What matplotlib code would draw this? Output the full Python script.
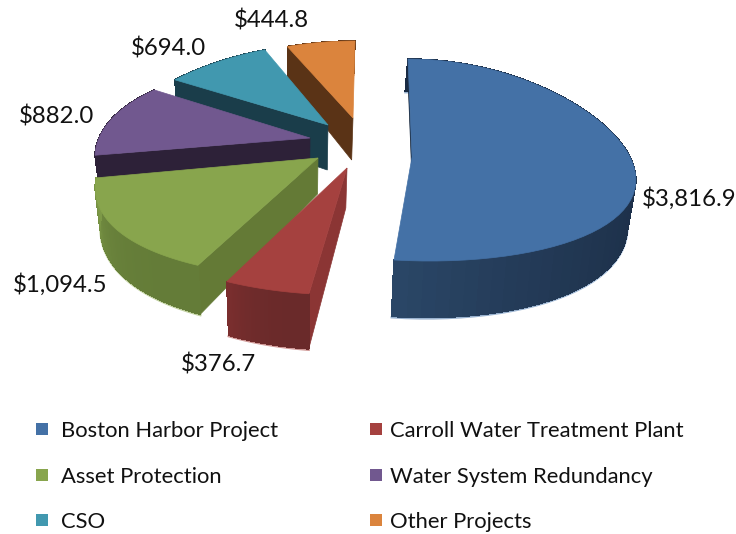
import numpy as np
import matplotlib
matplotlib.use("Agg")
import matplotlib.pyplot as plt
from matplotlib.colors import to_rgb
from matplotlib.patches import Polygon, Rectangle


# ---------- Data ----------
projects = ["Boston Harbor Project", "Carroll Water Treatment Plant", "Asset Protection",
            "Water System Redundancy", "CSO", "Other Projects"]
amounts = [3816.9, 376.7, 1094.5, 882.0, 694.0, 444.8]
amount_labels = ["$3,816.9", "$376.7", "$1,094.5", "$882.0", "$694.0", "$444.8"]

# ---------- Colours ----------
top_colors = ["#4471a6", "#a5413f", "#88a54d", "#71588f", "#4198af", "#db843d"]
cut_colors = ["#14253b", "#8b3534", "#647a36", "#2d2138", "#1a3d4a", "#5a3316"]
band_start = ["#1a2b43", "#6a2a2a", "#647c38", "#2d2138", "#1a3d4a", "#5a3316"]
band_end = ["#2a4666", "#7a2e2e", "#7d9947", "#2d2138", "#1a3d4a", "#5a3316"]

# ---------- Exploded 3D layout, one entry per slice ----------
apex_x = [412, 347, 318, 310, 328, 353]
apex_y = [157, 168, 158, 138, 125, 118]
radius_x = [218, 228, 215, 211, 207, 222]
radius_y = [101, 127, 120, 100, 81, 77]
widen = [-0.18, -0.2, -0.28, -0.2, -0.195, -0.2]
stretch = [0.03, 0.0, 0.0, 0.25, 0.0, 0.0]
lean = [-11, 0, 0, 0, 0, 2]
bend = [7, 0, 0, 0, 0, 0]
depth = [44, 40, 36, 36, 45, 42]
cut_scale = [0.2, 1, 1, 1, 1, 1]

# back slices first so the front ones cover them
draw_order = [5, 4, 3, 2, 1, 0]

label_x = [689, 219, 60, 57, 168, 271]
label_y = [199, 364, 285, 117, 49, 21]

legend_swatch_x = [36, 370]
legend_text_x = [61, 390]
legend_row_y = [431, 477, 522]


# ---------- Geometry ----------
def top_point(i, theta):
    u, v = np.sin(theta), np.cos(theta)
    x = apex_x[i] + radius_x[i] * u * (1 + widen[i] * v) + lean[i] * v + bend[i] * v ** 2
    y = apex_y[i] - radius_y[i] * v * (1 - stretch[i] * v)
    return x, y


def bottom_point(i, x, y, scale=1.0):
    return x + (300 - x) * 0.025 * scale, y + (depth[i] + 0.12 * (y - apex_y[i])) * scale


def mix(c1, c2, t):
    a, b = np.array(to_rgb(c1)), np.array(to_rgb(c2))
    return tuple(a + (b - a) * t)


# ---------- Draw one slice ----------
def draw_slice(ax, i, start, end):
    apex = (apex_x[i], apex_y[i])
    thetas = np.linspace(start, end, 60)

    # pale fringe along the lower rim
    low = [bottom_point(i, *top_point(i, t)) for t in thetas]
    ax.plot([p[0] for p in low], [p[1] + 1 for p in low], color=mix(top_colors[i], "white", 0.45),
            lw=1.6, zorder=1)

    # cut face on the starting edge
    s = cut_scale[i]
    sx, sy = top_point(i, start)
    ax.add_patch(Polygon([apex, (sx, sy), bottom_point(i, sx, sy, s), bottom_point(i, *apex, s)],
                         closed=True, fc=cut_colors[i], ec=cut_colors[i], lw=0.5))

    # outer rim in thin strips for the shading, no antialiasing or the seams show
    for k in range(len(thetas) - 1):
        x0, y0 = top_point(i, thetas[k])
        x1, y1 = top_point(i, thetas[k + 1])
        color = mix(band_start[i], band_end[i], (k / (len(thetas) - 2)) ** 3)
        ax.add_patch(Polygon([(x0, y0), (x1, y1), bottom_point(i, x1, y1), bottom_point(i, x0, y0)],
                             closed=True, fc=color, ec=color, lw=0.5, antialiased=False))

    # top face
    arc = [top_point(i, t) for t in thetas]
    ax.add_patch(Polygon([apex] + arc, closed=True, fc=top_colors[i], ec=top_colors[i], lw=0.5))


# ---------- Plot ----------
fig = plt.figure(figsize=(7.36, 5.34), dpi=100)
ax = fig.add_axes([0, 0, 1, 1])
ax.set_xlim(0, 736)
ax.set_ylim(534, 0)
ax.axis("off")

edges = np.concatenate([[0], np.cumsum(amounts)]) / np.sum(amounts) * 2 * np.pi

for i in draw_order:
    draw_slice(ax, i, edges[i], edges[i + 1])

for i, text in enumerate(amount_labels):
    ax.text(label_x[i], label_y[i], text, ha="center", va="center",
            fontsize=17.3, family="Lato", color="#111111")

# ---------- Legend ----------
for i, name in enumerate(projects):
    y = legend_row_y[i // 2]
    ax.add_patch(Rectangle((legend_swatch_x[i % 2], y - 8), 12, 12, fc=top_colors[i], ec="none"))
    ax.text(legend_text_x[i % 2], y, name, ha="left", va="center", fontsize=15.8,
            family="Lato", color="#111111")

fig.savefig("out.png", dpi=100)
